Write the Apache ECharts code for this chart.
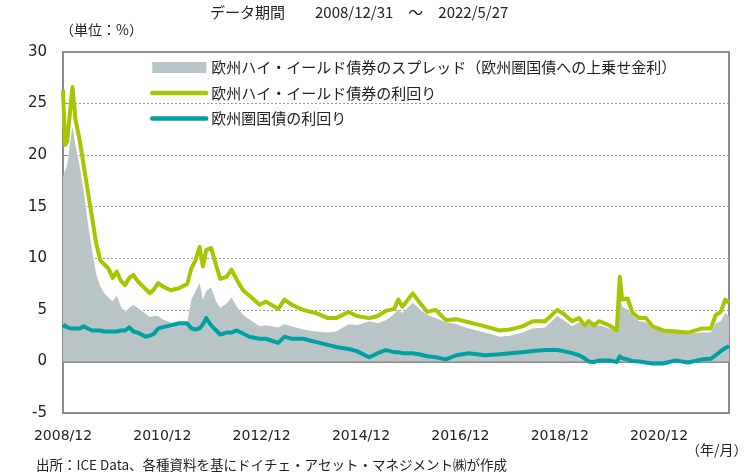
<!DOCTYPE html>
<html>
<head>
<meta charset="utf-8">
<script src="https://cdn.jsdelivr.net/npm/echarts@6/dist/echarts.min.js"></script>
<style>
  html, body { margin: 0; padding: 0; background: #fff; }
  #chart { width: 755px; height: 476px; }
</style>
</head>
<body>
<div id="chart"></div>
<script>
// 2008/12/31 からの経過月数
const months = [
  0, 0.5, 1, 2, 2.3, 3, 4, 5, 6, 7,
  8, 9, 10, 11, 12, 13, 14, 15, 16, 17,
  18, 19, 20, 21, 22, 23, 24, 26, 28, 30,
  31, 32, 33, 33.8, 34.6, 35.8, 37, 38, 39.5, 40.7,
  42, 43.5, 45, 47.5, 49, 52, 53.5, 55.2, 58, 61,
  64, 66, 69, 71, 74, 76, 78, 80, 81, 82,
  84.5, 86, 88, 90, 92.5, 95, 98, 102, 105.5, 108,
  111, 113.5, 116.5, 119.4, 121, 123, 124.7, 126, 127, 128.3,
  129.5, 132, 133.8, 134.5, 135.1, 136.4, 137.6, 139.2, 140.8, 142.4,
  145, 148, 151, 154.4, 156.5, 157.7, 158.9, 160, 160.9
]
// 欧州ハイ・イールド債券の利回り
const hyYield = [
  26.3, 21.0, 21.3, 25.5, 26.6, 23.5, 21.5, 19.0, 16.5, 14.0,
  11.5, 9.8, 9.4, 9.0, 8.1, 8.7, 7.8, 7.4, 8.1, 8.4,
  7.8, 7.4, 7.0, 6.6, 7.0, 7.6, 7.3, 6.9, 7.1, 7.5,
  9.0, 9.8, 11.1, 9.2, 10.8, 11.0, 9.3, 8.0, 8.2, 8.9,
  7.9, 6.9, 6.4, 5.5, 5.8, 5.1, 6.0, 5.5, 5.0, 4.7,
  4.2, 4.2, 4.8, 4.4, 4.2, 4.4, 4.9, 5.1, 6.0, 5.3,
  6.6, 5.8, 4.8, 5.0, 4.0, 4.1, 3.8, 3.4, 3.0, 3.1,
  3.4, 3.9, 3.9, 5.0, 4.6, 3.9, 4.2, 3.5, 3.9, 3.5,
  3.9, 3.5, 3.0, 8.2, 6.0, 6.1, 4.7, 4.2, 4.2, 3.4,
  3.0, 2.9, 2.8, 3.2, 3.2, 4.5, 4.8, 6.0, 5.7
]
// 欧州圏国債の利回り
const govYield = [
  3.3, 3.5, 3.3, 3.2, 3.2, 3.2, 3.2, 3.4, 3.2, 3.0,
  3.0, 3.0, 2.9, 2.9, 2.9, 2.9, 3.0, 3.0, 3.3, 2.9,
  2.8, 2.6, 2.4, 2.5, 2.7, 3.2, 3.3, 3.5, 3.7, 3.7,
  3.2, 3.1, 3.2, 3.6, 4.2, 3.5, 3.0, 2.6, 2.8, 2.8,
  3.0, 2.7, 2.4, 2.2, 2.2, 1.8, 2.4, 2.2, 2.2, 1.9,
  1.6, 1.4, 1.2, 1.0, 0.4, 0.8, 1.1, 0.9, 0.9, 0.8,
  0.8, 0.7, 0.5, 0.4, 0.2, 0.6, 0.8, 0.6, 0.7, 0.8,
  0.9, 1.0, 1.1, 1.1, 1.0, 0.8, 0.6, 0.3, 0.0, -0.05,
  0.1, 0.1, -0.05, 0.5, 0.3, 0.2, 0.05, 0.0, -0.1, -0.2,
  -0.2, 0.1, -0.1, 0.2, 0.25, 0.6, 1.0, 1.3, 1.5
]
// スプレッド
const spread = [
  17.9, 18.5, 19.0, 22.0, 22.7, 21.0, 19.0, 16.5, 13.5, 10.8,
  8.5, 7.3, 6.6, 6.2, 5.8, 6.4, 5.3, 4.8, 5.2, 5.5,
  5.2, 4.9, 4.6, 4.3, 4.4, 4.4, 4.1, 3.8, 3.6, 3.7,
  6.0, 6.8, 7.6, 6.0, 6.8, 7.2, 5.8, 5.2, 5.6, 6.2,
  5.3, 4.5, 4.1, 3.4, 3.5, 3.3, 3.6, 3.4, 3.1, 2.9,
  2.8, 2.9, 3.6, 3.5, 3.9, 3.7, 4.0, 4.6, 5.0, 4.7,
  5.7, 5.1, 4.5, 4.2, 3.8, 3.6, 3.2, 2.8, 2.4, 2.5,
  2.8, 3.2, 3.3, 4.4, 4.0, 3.4, 3.8, 3.4, 3.6, 3.4,
  3.5, 3.2, 2.9, 6.3, 5.3, 5.0, 4.4, 3.9, 3.8, 3.2,
  3.0, 2.8, 2.7, 2.8, 2.8, 3.7, 3.9, 4.7, 4.4
]
const xLabels = ['2008/12', '2010/12', '2012/12', '2014/12', '2016/12', '2018/12', '2020/12']

const NAME_SPREAD = '欧州ハイ・イールド債券のスプレッド（欧州圏国債への上乗せ金利）'
const NAME_HY = '欧州ハイ・イールド債券の利回り'
const NAME_GOV = '欧州圏国債の利回り'
const JP_FONT = "'Noto Sans CJK JP', sans-serif"
const NUM_FONT = "'DejaVu Sans', 'Noto Sans CJK JP', sans-serif"
const FRAME = '#8c8c8c'
const GREEN = '#a9c400'
const TEAL = '#00a0a2'
const GRAY = '#b9c4c7'

const pairs = (vals) => months.map((m, i) => [m, vals[i]])

const myChart = echarts.init(document.getElementById('chart'))
const option = {
  animation: false,
  backgroundColor: '#fff',
  grid: {
    left: 63, right: 26, top: 52, bottom: 63,
    show: true, borderColor: FRAME, borderWidth: 2
  },
  graphic: [
    { type: 'text', left: 210, top: 5, style: { text: 'データ期間　　2008/12/31　～　2022/5/27', font: "15px " + JP_FONT, fill: '#222' } },
    { type: 'text', left: 60, top: 23, style: { text: '（単位：%）', font: "14px " + JP_FONT, fill: '#222' } },
    { type: 'text', left: 686, top: 443, style: { text: '（年/月）', font: "14px " + JP_FONT, fill: '#222' } },
    { type: 'text', left: 36, top: 458, style: { text: '出所：ICE Data、各種資料を基にドイチェ・アセット・マネジメント㈱が作成', font: "13.5px " + JP_FONT, fill: '#222' } }
  ],
  legend: {
    orient: 'vertical',
    left: 145, top: 55,
    itemWidth: 54, itemHeight: 11, itemGap: 10.5,
    textStyle: { fontSize: 15, color: '#222', fontFamily: JP_FONT },
    data: [
      { name: NAME_SPREAD, icon: 'rect' },
      { name: NAME_HY, itemStyle: { opacity: 0 }, lineStyle: { width: 4.5, color: GREEN, cap: 'round' } },
      { name: NAME_GOV, itemStyle: { opacity: 0 }, lineStyle: { width: 4.5, color: TEAL, cap: 'round' } }
    ]
  },
  xAxis: [
    {
      type: 'value', min: 0, max: 160.9, interval: 24,
      axisLine: { onZero: false, lineStyle: { color: FRAME, width: 2 } },
      axisTick: { show: false },
      splitLine: { show: false },
      axisLabel: {
        showMaxLabel: false, margin: 16,
        fontSize: 14, color: '#222', fontFamily: NUM_FONT,
        formatter: (v) => (v % 24 === 0 ? xLabels[v / 24] : '')
      }
    },
    {
      // 0%の線と目盛り
      type: 'value', min: 0, max: 160.9, interval: 24,
      axisLine: { onZero: true, lineStyle: { color: FRAME, width: 2 } },
      axisTick: { show: true, inside: false, length: 5, lineStyle: { color: FRAME, width: 1 } },
      axisLabel: { show: false },
      splitLine: { show: false }
    }
  ],
  yAxis: {
    type: 'value', min: -5, max: 30, interval: 5,
    axisLine: { show: true, lineStyle: { color: FRAME, width: 2 } },
    axisTick: { show: true, inside: true, length: 4, lineStyle: { color: FRAME } },
    axisLabel: { margin: 16, fontSize: 15, color: '#222', fontFamily: NUM_FONT },
    splitLine: { lineStyle: { color: '#9a9a9a', type: [2, 2], width: 1 } }
  },
  series: [
    {
      name: NAME_SPREAD, type: 'line', data: pairs(spread),
      symbol: 'none', color: GRAY,
      lineStyle: { width: 0 },
      areaStyle: { color: GRAY, opacity: 1, origin: 0 },
      z: 1
    },
    {
      name: NAME_HY, type: 'line', data: pairs(hyYield),
      symbol: 'none', color: GREEN,
      lineStyle: { width: 4, color: GREEN, join: 'round' },
      z: 3
    },
    {
      name: NAME_GOV, type: 'line', data: pairs(govYield),
      symbol: 'none', color: TEAL,
      lineStyle: { width: 4, color: TEAL, join: 'round' },
      z: 4
    }
  ]
}
option && myChart.setOption(option)
</script>
</body>
</html>
